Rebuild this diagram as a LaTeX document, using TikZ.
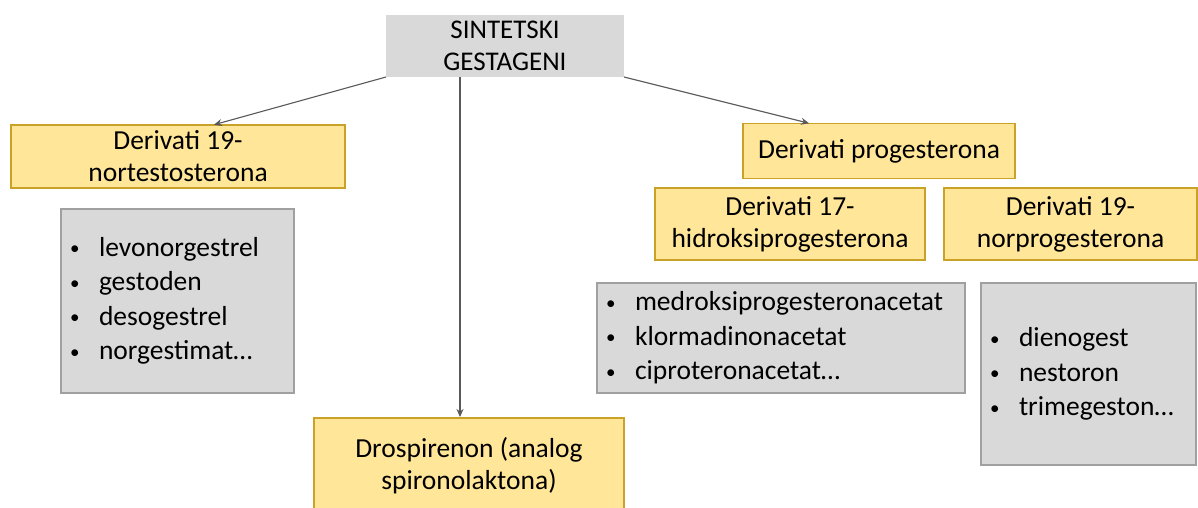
\documentclass[tikz,border=0pt]{standalone}
\usepackage{fontspec}
\setmainfont{Carlito}
\usetikzlibrary{arrows.meta}

\definecolor{zuta}{HTML}{FFE699}
\definecolor{zutarub}{HTML}{C9A227}
\definecolor{siva}{HTML}{D9D9D9}
\definecolor{sivarub}{HTML}{A0A0A0}
\definecolor{strelica}{HTML}{595959}
\newcommand{\stavka}[1]{\makebox[29pt][l]{\raisebox{1.5pt}{\fontsize{19}{19}\selectfont\textbullet}}#1}

\begin{document}
\begin{tikzpicture}[x=1pt,y=-1pt]
\tikzset{ >={Stealth[length=8pt,width=7pt]}, inner sep=0pt, outer sep=0pt,
  zutibox/.style={draw=zutarub, fill=zuta, line width=1.2pt, align=center,
    font=\fontsize{27.5}{32}\selectfont},
  sivibox/.style={draw=sivarub, fill=siva, line width=1.2pt, align=left,
    inner xsep=9pt, font=\fontsize{27.5}{34.5}\selectfont},
  strel/.style={->, draw=strelica, line width=1.1pt, shorten >=1pt},
}
\useasboundingbox (0,0) rectangle (1198,507);

\node [fill=siva, minimum width=238pt, minimum height=62pt, align=center,
  font=\fontsize{27}{32}\selectfont] (vrh) at (505,46) {SINTETSKI\\GESTAGENI};

\node [zutibox, minimum width=334pt, minimum height=63pt] (d19) at (178,156.5)
  {Derivati 19-\\nortestosterona};
\node [zutibox, minimum width=272pt, minimum height=55pt] (dprog) at (879,151)
  {Derivati progesterona};
\node [zutibox, minimum width=270pt, minimum height=72pt] (d17) at (790,224)
  {Derivati 17-\\hidroksiprogesterona};
\node [zutibox, minimum width=253pt, minimum height=72pt] (dnor) at (1070.5,224)
  {Derivati 19-\\norprogesterona};
\node [zutibox, minimum width=310pt, minimum height=96pt] (drosp) at (469,466)
  {Drospirenon (analog\\spironolaktona)};

\node [sivibox, text width=215pt, minimum height=184pt] (lista1) at (177.5,301)
  {\stavka{levonorgestrel}\\\stavka{gestoden}\\\stavka{desogestrel}\\\stavka{norgestimat…}};
\node [sivibox, text width=350pt, minimum height=110pt] (lista2) at (781,338)
  {\stavka{medroksiprogesteronacetat}\\\stavka{klormadinonacetat}\\\stavka{ciproteronacetat…}};
\node [sivibox, text width=197pt, minimum height=182pt] (lista3) at (1088.5,374)
  {\stavka{dienogest}\\\stavka{nestoron}\\\stavka{trimegeston…}};

\draw [strel] (vrh.south west) -- ([xshift=35pt]d19.north);
\draw [strel] (vrh.south east) -- ([xshift=-69pt]dprog.north);
\draw [strel] ([xshift=-45pt]vrh.south) -- ([xshift=-45pt]vrh.south |- drosp.north);

\end{tikzpicture}
\end{document}
